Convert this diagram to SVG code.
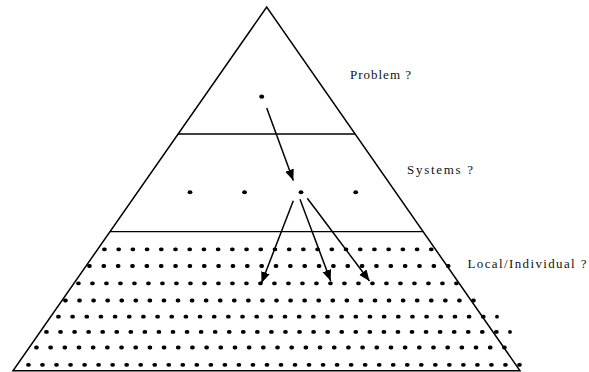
<svg xmlns="http://www.w3.org/2000/svg" width="589" height="372" viewBox="0 0 589 372">
  <style>
    .frame { fill: none; stroke: #000; stroke-width: 1.5; }
    .tier { stroke: #000; stroke-width: 1.3; }
    .dot { fill: #000; }
    .row { fill: none; stroke: #000; stroke-width: 3.8; stroke-linecap: round; }
    .link { fill: none; stroke: #000; stroke-width: 1.5; marker-end: url(#head); }
    .label { font-family: "Liberation Serif", "Times New Roman", serif; font-size: 13px; fill: #111; }
  </style>
  <defs>
    <marker id="head" markerUnits="userSpaceOnUse" markerWidth="12" markerHeight="10" refX="11" refY="4.5" orient="auto">
      <path d="M0,0 L11,4.5 L0,9 Z" fill="#000"/>
    </marker>
  </defs>
  <rect width="589" height="372" fill="#fff"/>

  <!-- pyramid outline and tier dividers -->
  <g id="pyramid">
    <polygon class="frame" points="266.7,7 13,370.7 520,370.7"/>
    <line class="tier" x1="178" y1="134" x2="355.3" y2="134"/>
    <line class="tier" x1="110" y1="231.7" x2="423.2" y2="231.7"/>
  </g>

  <!-- top tier -->
  <g id="problem">
    <ellipse class="dot" cx="261.7" cy="96.7" rx="2.5" ry="2.1"/>
    <text class="label" x="350" y="79" textLength="61" lengthAdjust="spacing">Problem ?</text>
  </g>

  <!-- middle tier -->
  <g id="systems">
    <ellipse class="dot" cx="190" cy="192.3" rx="2.4" ry="2"/>
    <ellipse class="dot" cx="244.5" cy="192.3" rx="2.4" ry="2"/>
    <ellipse class="dot" cx="301" cy="192.3" rx="2.4" ry="2"/>
    <ellipse class="dot" cx="355.7" cy="192.3" rx="2.4" ry="2"/>
    <text class="label" x="407" y="173.5" textLength="66" lengthAdjust="spacing">Systems ?</text>
  </g>

  <!-- bottom tier: rows of dots drawn as dashed strokes -->
  <g id="local">
    <path class="row" stroke-dasharray="0.9 13.31" d="M104 249.3 H445"/>
    <path class="row" stroke-dasharray="0.9 13.45" d="M89 266 H462"/>
    <path class="row" stroke-dasharray="0.9 13.1" d="M78 283.3 H470"/>
    <path class="row" stroke-dasharray="0.9 13.17" d="M65 300.5 H487"/>
    <path class="row" stroke-dasharray="0.9 13.26" d="M58 316.7 H497"/>
    <path class="row" stroke-dasharray="0.9 13.16" d="M46 331.9 H510"/>
    <path class="row" stroke-dasharray="0.9 13.28" d="M36 347.5 H518"/>
    <path class="row" stroke-dasharray="0.9 13.13" d="M28 364.8 H533"/>
    <text class="label" x="467.5" y="268.3" textLength="119" lengthAdjust="spacing">Local/Individual ?</text>
  </g>

  <!-- arrows between tiers -->
  <g id="connectors">
    <line class="link" x1="266.7" y1="108" x2="293.3" y2="180.5"/>
    <line class="link" x1="293.3" y1="200.7" x2="261.5" y2="283"/>
    <line class="link" x1="300" y1="199.3" x2="330.7" y2="281"/>
    <line class="link" x1="307.3" y1="198.3" x2="369.5" y2="281"/>
  </g>
</svg>
